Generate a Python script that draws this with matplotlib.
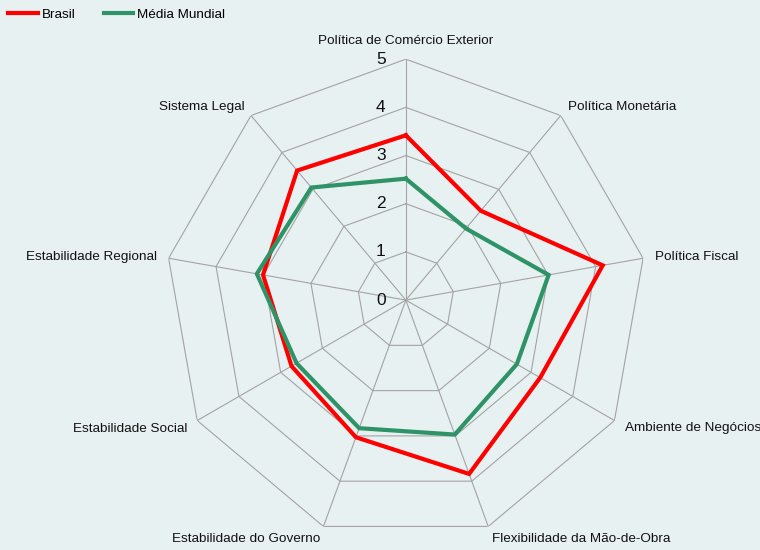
import numpy as np
import matplotlib
matplotlib.use('Agg')
import matplotlib.pyplot as plt
from matplotlib.lines import Line2D

plt.rcParams['font.family'] = ['Liberation Sans', 'DejaVu Sans']

categorias = ['Política de Comércio Exterior', 'Política Monetária', 'Política Fiscal',
              'Ambiente de Negócios', 'Flexibilidade da Mão-de-Obra', 'Estabilidade do Governo',
              'Estabilidade Social', 'Estabilidade Regional', 'Sistema Legal']
brasil = [3.42, 2.42, 4.15, 3.22, 3.84, 3.03, 2.74, 3.01, 3.51]
media_mundial = [2.52, 1.94, 3.01, 2.66, 2.97, 2.83, 2.62, 3.14, 3.05]
niveis = [0, 1, 2, 3, 4, 5]
rotulos_niveis = ['0', '1', '2', '3', '4', '5']
series = ['Brasil', 'Média Mundial']

# layout of the category labels: offset in px from the outer vertex, alignment
desloc = [(0, 18, 'center'), (7, 9, 'left'), (12, 1, 'left'), (11, -7, 'left'),
          (4, -13, 'left'), (-3, -13, 'right'), (-10, -8, 'right'), (-12, 1, 'right'),
          (-6, 9, 'right')]

fundo = '#e8f1f2'
cor_grade = '#a3a3a3'
cores = ['#ff0000', '#2e9366']

n = len(categorias)
ang = np.arange(n) * 2 * np.pi / n
ang_f = np.append(ang, ang[0])

fig = plt.figure(figsize=(7.6, 5.5), dpi=100, facecolor=fundo)
ax = fig.add_axes([0.217, 0.0164, 0.634, 0.876], projection='polar')
ax.set_facecolor('none')
ax.set_theta_zero_location('N')
ax.set_theta_direction(-1)
ax.set_ylim(0, 5)
ax.grid(False)
ax.spines['polar'].set_visible(False)
ax.set_xticks([])
ax.set_yticks([])

# polygon grid + spokes
for lvl in niveis[1:]:
    ax.plot(ang_f, [lvl] * (n + 1), color=cor_grade, lw=0.8, zorder=1)
for a in ang:
    ax.plot([a, a], [0, niveis[-1]], color=cor_grade, lw=0.8, zorder=1)

for lvl, txt in zip(niveis, rotulos_niveis):
    ax.annotate(txt, xy=(0, lvl), xytext=(-18, 0), textcoords='offset points',
                ha='center', va='center', fontsize=12.5, color='#111111')

for a, cat, (dx, dy, ha) in zip(ang, categorias, desloc):
    ax.annotate(cat, xy=(a, niveis[-1]), xytext=(dx * 0.72, dy * 0.72),
                textcoords='offset points', ha=ha, va='center', fontsize=9.7,
                color='#111111', annotation_clip=False)

for vals, cor in zip([brasil, media_mundial], cores):
    ax.plot(ang_f, vals + vals[:1], color=cor, lw=3, zorder=3, solid_joinstyle='miter')

handles = [Line2D([], [], color=c, lw=3) for c in cores]
fig.legend(handles, series, loc='upper left', bbox_to_anchor=(0, 1), ncol=2,
           frameon=False, fontsize=9.7, handlelength=2.2, handletextpad=0.3,
           columnspacing=2.1, borderaxespad=0, borderpad=0.6)

fig.savefig('out.png', dpi=100, facecolor=fundo)
